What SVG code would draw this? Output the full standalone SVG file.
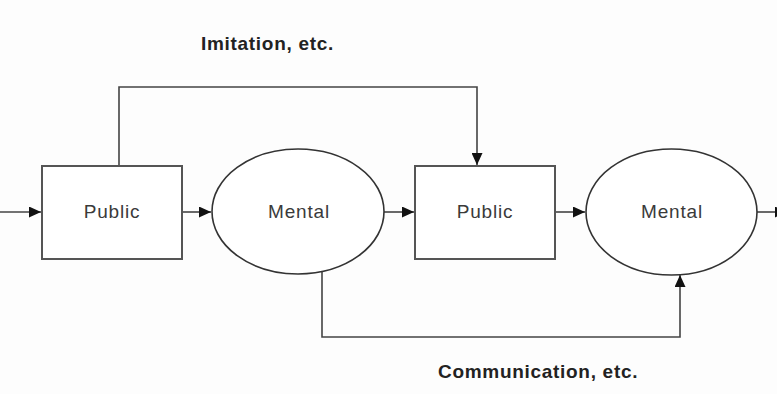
<svg xmlns="http://www.w3.org/2000/svg" width="777" height="394" viewBox="0 0 777 394">
<defs>
<marker id="arr" markerUnits="userSpaceOnUse" markerWidth="13" markerHeight="11" refX="12" refY="5.5" orient="auto">
<path d="M0,0 L12,5.5 L0,11 Z" fill="#111"/>
</marker>
<style>
.box{fill:#fff;stroke:#555;stroke-width:2}
.ell{fill:#fff;stroke:#333;stroke-width:1.6}
.lbl{font-family:"Liberation Sans",Arial,sans-serif;font-size:19px;fill:#3a3a3a;letter-spacing:0.8px;text-anchor:middle}
.cap{font-family:"Liberation Sans",Arial,sans-serif;font-size:19px;font-weight:bold;fill:#222;letter-spacing:0.7px}
.con{fill:none;stroke:#444;stroke-width:1.6}
</style>
</defs>
<rect width="777" height="394" fill="#fdfdfd"/>
<g id="connectors">
<line class="con" x1="0" y1="212" x2="41" y2="212" marker-end="url(#arr)"/>
<line class="con" x1="182" y1="212" x2="211" y2="212" marker-end="url(#arr)"/>
<line class="con" x1="384" y1="212" x2="414" y2="212" marker-end="url(#arr)"/>
<line class="con" x1="555" y1="212" x2="585" y2="212" marker-end="url(#arr)"/>
<line class="con" x1="757" y1="212" x2="787" y2="212" marker-end="url(#arr)"/>
<polyline class="con" points="119,166 119,87 477,87 477,165" marker-end="url(#arr)"/>
<polyline class="con" points="322,271 322,337 680,337 680,275" marker-end="url(#arr)"/>
</g>
<g id="public1">
<rect class="box" x="42" y="166" width="140" height="93"/>
<text class="lbl" x="112" y="218">Public</text>
</g>
<g id="mental1">
<ellipse class="ell" cx="298" cy="211.5" rx="86" ry="62.5"/>
<text class="lbl" x="299" y="218">Mental</text>
</g>
<g id="public2">
<rect class="box" x="415" y="166" width="140" height="93"/>
<text class="lbl" x="485" y="218">Public</text>
</g>
<g id="mental2">
<ellipse class="ell" cx="671.5" cy="212" rx="85.5" ry="63"/>
<text class="lbl" x="672" y="218">Mental</text>
</g>
<g id="labels">
<text class="cap" x="201" y="50">Imitation, etc.</text>
<text class="cap" x="438" y="378">Communication, etc.</text>
</g>
</svg>
